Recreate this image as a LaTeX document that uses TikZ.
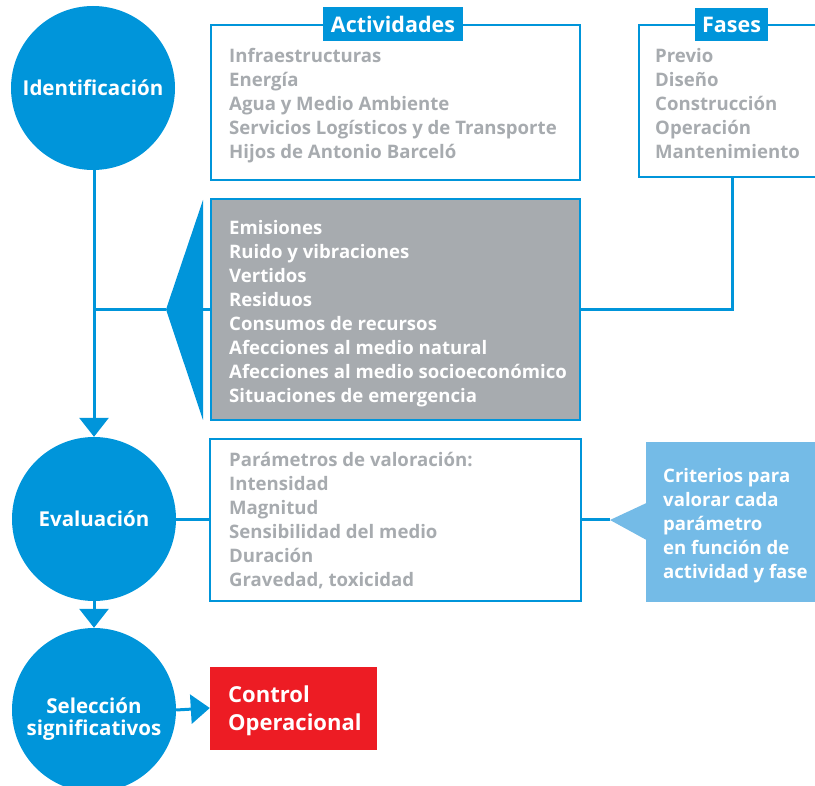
\documentclass[tikz,border=0pt]{standalone}
\usepackage{fontspec}
\setmainfont{Open Sans}
\usetikzlibrary{arrows.meta}
\definecolor{cblue}{HTML}{0095DA}
\definecolor{cgray}{HTML}{A7ABAF}
\definecolor{clight}{HTML}{74BBE7}
\definecolor{cred}{HTML}{ED1C24}
\begin{document}
\begin{tikzpicture}[x=1pt,y=-1pt,
  circ/.style={circle, fill=cblue, minimum size=164pt, inner sep=0pt, text=white, align=center, font=\bfseries\fontsize{20.5}{22}\selectfont},
  frame/.style={draw=cblue, line width=2pt, fill=white, inner sep=0pt},
  tab/.style={fill=cblue, text=white, inner sep=0pt, font=\bfseries\fontsize{21.5}{24}\selectfont},
  listtext/.style={anchor=north west, inner sep=0pt, align=left, font=\bfseries\fontsize{18.6}{24}\selectfont},
  conn/.style={draw=cblue, line width=3pt},
  tip/.style={-{Triangle[width=29pt,length=19pt]}}
]
\useasboundingbox (0,0) rectangle (815,786);
\clip (0,0) rectangle (815,786);

% boxes
\node[frame, minimum width=369pt, minimum height=155pt] (act) at (395.5,102.5) {};
\node[frame, minimum width=186pt, minimum height=152pt] (fases) at (732,101) {};
\node[frame, fill=cgray, minimum width=369pt, minimum height=221pt] (aspect) at (395.5,309.5) {};
\node[frame, minimum width=371pt, minimum height=162pt] (param) at (395.5,520) {};
\node[fill=clight, minimum width=170pt, minimum height=160pt, inner sep=0pt] (crit) at (731,522) {};
\node[fill=cred, minimum width=167pt, minimum height=83pt, inner sep=0pt] (ctrl) at (293.5,708) {};

% tabs
\node[tab, minimum width=140pt, minimum height=34pt] (acttab) at (393,24) {Actividades};
\node[tab, minimum width=73pt, minimum height=33pt] (fasestab) at (731.5,24.5) {Fases};

% circles
\node[circ] (ident) at (93,88) {Identificación};
\node[circ] (eval) at (94,519) {Evaluación};
\node[circ] (sel) at (94,710) {};
\node[inner sep=0pt, text=white, align=center, font=\bfseries\fontsize{20.5}{21.5}\selectfont] (seltext) at (94,719) {Selección\\significativos};

% texts
\node[listtext, text=cgray] (actlist) at (229,46) {\rule{0pt}{16pt}Infraestructuras\\Energía\\Agua y Medio Ambiente\\Servicios Logísticos y de Transporte\\Hijos de Antonio Barceló};
\node[listtext, text=cgray] (faseslist) at (655,46) {\rule{0pt}{16pt}Previo\\Diseño\\Construcción\\Operación\\Mantenimiento};
\node[listtext, text=white] (aspectlist) at (229,218) {\rule{0pt}{16pt}Emisiones\\Ruido y vibraciones\\Vertidos\\Residuos\\Consumos de recursos\\Afecciones al medio natural\\Afecciones al medio socioeconómico\\Situaciones de emergencia};
\node[listtext, text=cgray] (paramlist) at (229,450) {\rule{0pt}{16pt}Parámetros de valoración:\\Intensidad\\Magnitud\\Sensibilidad del medio\\Duración\\Gravedad, toxicidad};
\node[listtext, text=white] (critlist) at (663,466) {\rule{0pt}{16pt}Criterios para\\valorar cada\\parámetro\\en función de\\actividad y fase};
\node[anchor=north west, inner sep=0pt, align=left, text=white, font=\bfseries\fontsize{22}{28}\selectfont] (ctrltext) at (228,684) {\rule{0pt}{18pt}Control\\Operacional};

% connectors
\coordinate (apex) at (166,309.5);
\coordinate (tribase) at (203,309.5);
\coordinate (branch) at (94,309.5);
\coordinate (ctip) at (610,520);
\draw[conn] (branch) -- (apex);
\fill[cblue] (apex) -- (203,200) -- (203,420) -- cycle;
\draw[conn] (tribase) -- (aspect.west);
\draw[conn] (fases.south) |- (aspect.east);
\draw[conn, tip] (ident.south -| eval.north) -- (eval.north);
\draw[conn] (eval.east |- param.west) -- (param.west);
\draw[conn] (param.east) -- (ctip);
\fill[clight] (ctip) -- (646.5,503) -- (646.5,540) -- cycle;
\draw[conn, tip] (eval.south) -- (sel.north);
\draw[conn, tip] (sel.east) -- (ctrl.west);
\end{tikzpicture}
\end{document}
